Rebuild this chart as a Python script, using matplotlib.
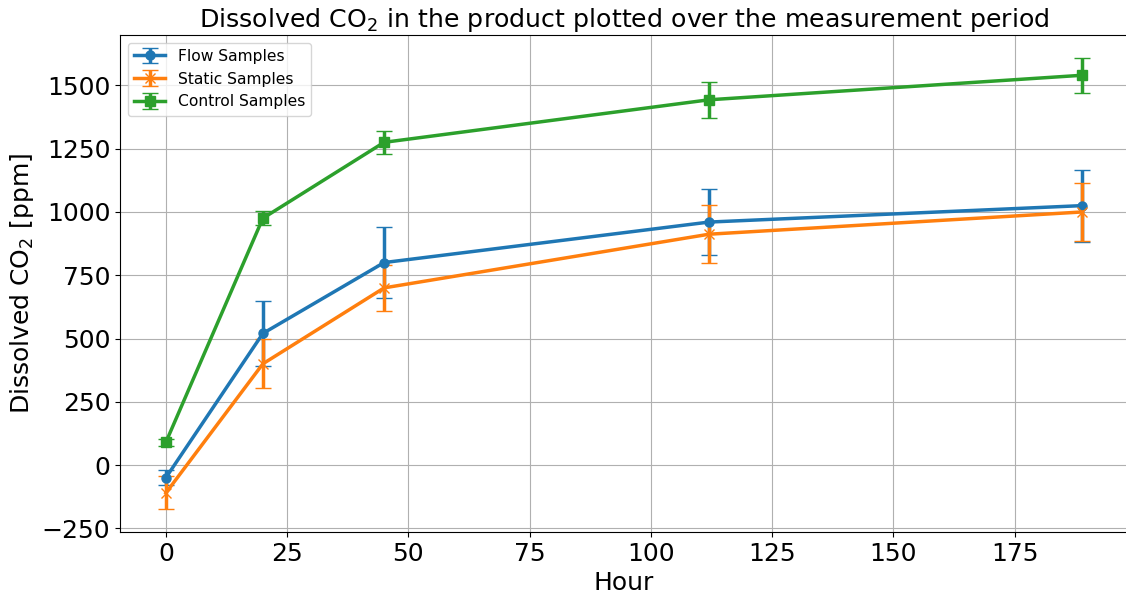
import matplotlib
matplotlib.use('Agg')
import matplotlib.pyplot as plt
import numpy as np

# %% Data
hours = [0, 20, 45, 112, 189]

flow_mean = [-50, 520, 800, 960, 1025]
flow_err  = [30, 127, 140, 132, 142]

static_mean = [-110, 400, 700, 912, 1000]
static_err  = [65, 97, 92, 115, 115]

control_mean = [90, 975, 1275, 1443, 1540]
control_err  = [15, 28, 45, 70, 70]

# %% Plot
fig = plt.figure(figsize=(11.26, 5.96), dpi=100)
ax = fig.add_axes([0.1066, 0.1074, 0.8954, 0.834])

ax.errorbar(hours, flow_mean, yerr=flow_err, marker='o', color='tab:blue',
            lw=2.5, ms=6.5, capsize=6, label='Flow Samples')
ax.errorbar(hours, static_mean, yerr=static_err, marker='x', color='tab:orange',
            lw=2.5, ms=6.5, capsize=6, label='Static Samples')
ax.errorbar(hours, control_mean, yerr=control_err, marker='s', color='tab:green',
            lw=2.5, ms=6.5, capsize=6, label='Control Samples')

ax.grid(True, color='#b0b0b0', lw=0.8)
ax.set_title(r'Dissolved CO$_2$ in the product plotted over the measurement period', fontsize=18.2)
ax.set_xlabel('Hour', fontsize=18)
ax.set_ylabel(r'Dissolved CO$_2$ [ppm]', fontsize=18)
ax.tick_params(labelsize=18)
ax.set_xticks([0, 25, 50, 75, 100, 125, 150, 175])
ax.set_yticks([-250, 0, 250, 500, 750, 1000, 1250, 1500])
ax.legend(loc='upper left', fontsize=11.2)

fig.savefig('out.png', dpi=100)
